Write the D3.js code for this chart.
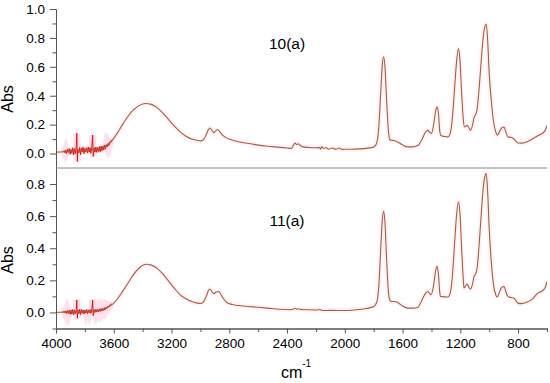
<!DOCTYPE html>
<html><head><meta charset="utf-8">
<script src="https://cdn.jsdelivr.net/npm/d3@7"></script>
<style>
body{margin:0;background:#fff}
text{font-family:Arial,"Liberation Sans",sans-serif;fill:#000}
</style>
</head><body>
<svg id="c" width="550" height="383"></svg>
<script>
// ---------- DATA ----------
const panelLabels = ["10(a)", "11(a)"];
const xMajorTicks = [4000, 3600, 3200, 2800, 2400, 2000, 1600, 1200, 800];
const xMinorTicks = [3800, 3400, 3000, 2600, 2200, 1800, 1400, 1000, 600];
const yMajorTop = [0.0, 0.2, 0.4, 0.6, 0.8, 1.0];
const yMinorTop = [0.1, 0.3, 0.5, 0.7, 0.9];
const yMajorBot = [0.0, 0.2, 0.4, 0.6, 0.8];
const yMinorBot = [-0.1, 0.1, 0.3, 0.5, 0.7];

// spectrum 10(a): wavenumber / absorbance
const wn10 = [4000,3950,3900,3850,3800,3750,3700,3660,3630,3600,3570,3540,3500,3460,3420,3380,3340,3300,3260,3220,3180,3140,3100,3060,3020,3000,2980,2960,2945,2935,2920,2908,2890,2880,2865,2845,2826,2800,2750,2700,2653,2600,2500,2400,2370,2355,2345,2335,2325,2310,2295,2250,2200,2175,2168,2160,2150,2130,2110,2090,2060,2040,2020,2000,1950,1900,1850,1800,1780,1765,1750,1740,1731,1722,1712,1700,1690,1680,1660,1634,1600,1564,1530,1495,1470,1440,1426,1410,1400,1385,1370,1361,1352,1342,1335,1310,1287,1270,1255,1240,1225,1213,1203,1190,1180,1171,1160,1153,1140,1130,1115,1105,1097,1085,1070,1055,1040,1030,1021,1012,1000,986,970,955,944,930,915,898,885,871,850,837,820,801,770,740,710,685,660,640,620,610,600];
const abs10 = [0.010,0.012,0.016,0.020,0.022,0.025,0.030,0.045,0.070,0.105,0.150,0.200,0.260,0.305,0.335,0.346,0.340,0.318,0.280,0.235,0.190,0.150,0.120,0.100,0.090,0.088,0.095,0.130,0.165,0.177,0.160,0.145,0.160,0.166,0.150,0.125,0.112,0.100,0.085,0.075,0.068,0.058,0.048,0.038,0.036,0.060,0.073,0.062,0.068,0.058,0.048,0.042,0.040,0.042,0.030,0.048,0.036,0.040,0.030,0.038,0.030,0.038,0.028,0.030,0.030,0.032,0.036,0.045,0.070,0.180,0.450,0.620,0.670,0.600,0.400,0.180,0.100,0.092,0.090,0.080,0.060,0.046,0.046,0.055,0.090,0.150,0.160,0.145,0.140,0.200,0.300,0.323,0.280,0.150,0.125,0.118,0.115,0.140,0.250,0.450,0.650,0.727,0.650,0.400,0.240,0.184,0.190,0.196,0.175,0.161,0.200,0.250,0.265,0.300,0.450,0.650,0.820,0.880,0.896,0.800,0.550,0.369,0.220,0.150,0.127,0.150,0.175,0.184,0.150,0.115,0.112,0.108,0.090,0.073,0.072,0.080,0.095,0.111,0.125,0.135,0.150,0.165,0.195];

// noisy segment of 10(a)
const noiseWn10 = [3950,3944,3938,3932,3926,3920,3914,3908,3902,3896,3890,3884,3878,3872,3866,3860,3856,3852,3848,3842,3836,3830,3824,3818,3812,3806,3800,3794,3788,3782,3776,3770,3764,3758,3752,3746,3742,3736,3730,3724,3718,3712,3706,3700,3694,3688,3682,3676,3670,3664,3658,3652,3646,3640,3634,3628,3622,3616];
const noiseAbs10 = [0.012,0.020,0.005,0.025,0.000,0.030,0.008,0.035,-0.005,0.028,0.002,0.040,-0.010,0.035,0.000,0.045,0.140,-0.055,0.030,0.005,0.042,-0.008,0.038,0.010,0.045,0.000,0.035,0.012,0.040,0.005,0.045,0.010,0.040,0.002,0.048,0.128,-0.020,0.040,0.010,0.045,0.008,0.042,0.015,0.048,0.012,0.050,0.020,0.052,0.025,0.058,0.030,0.062,0.045,0.070,0.055,0.080,0.075,0.095];

// spectrum 11(a)
const wn11 = [4000,3950,3900,3850,3800,3750,3700,3660,3630,3600,3570,3540,3500,3460,3420,3375,3340,3300,3260,3220,3180,3140,3100,3060,3020,3000,2980,2960,2945,2935,2920,2908,2890,2873,2860,2840,2815,2780,2700,2600,2537,2450,2375,2355,2345,2335,2320,2300,2200,2170,2160,2100,2000,1950,1900,1850,1800,1780,1765,1750,1740,1731,1722,1712,1700,1690,1681,1660,1634,1600,1564,1530,1495,1470,1440,1426,1410,1403,1385,1370,1361,1352,1342,1338,1310,1287,1270,1255,1240,1225,1213,1203,1190,1180,1175,1165,1153,1140,1130,1115,1105,1097,1085,1070,1055,1040,1030,1021,1012,1000,986,970,955,944,930,915,898,885,871,850,830,801,780,740,700,663,640,620,610,600];
const abs11 = [0.000,0.002,0.004,0.005,0.006,0.008,0.012,0.022,0.038,0.058,0.090,0.130,0.185,0.240,0.280,0.300,0.295,0.275,0.240,0.195,0.150,0.110,0.085,0.068,0.058,0.056,0.065,0.100,0.135,0.146,0.130,0.117,0.128,0.131,0.115,0.085,0.060,0.050,0.040,0.032,0.027,0.020,0.017,0.022,0.026,0.021,0.023,0.018,0.015,0.018,0.012,0.013,0.012,0.014,0.018,0.025,0.037,0.060,0.160,0.420,0.580,0.630,0.560,0.360,0.150,0.080,0.069,0.068,0.062,0.040,0.027,0.027,0.031,0.070,0.120,0.131,0.115,0.110,0.170,0.265,0.287,0.240,0.120,0.100,0.097,0.096,0.120,0.230,0.430,0.620,0.690,0.620,0.380,0.210,0.152,0.165,0.177,0.155,0.146,0.180,0.225,0.235,0.270,0.420,0.620,0.790,0.850,0.867,0.770,0.520,0.318,0.170,0.110,0.096,0.125,0.155,0.162,0.130,0.100,0.093,0.090,0.058,0.055,0.063,0.085,0.121,0.130,0.145,0.160,0.193];

const noiseWn11 = noiseWn10;
const noiseAbs11 = [0.002,0.008,-0.004,0.010,-0.008,0.012,-0.006,0.015,-0.012,0.014,-0.010,0.018,-0.015,0.016,-0.008,0.020,0.078,-0.036,0.015,-0.008,0.020,-0.014,0.018,-0.005,0.016,-0.010,0.015,-0.004,0.018,-0.008,0.016,-0.003,0.018,-0.006,0.020,0.078,-0.020,0.018,0.000,0.020,0.002,0.018,0.004,0.022,0.006,0.024,0.010,0.026,0.014,0.030,0.018,0.034,0.026,0.040,0.034,0.046,0.044,0.055];

// ---------- DRAW ----------
const svg = d3.select("#c");
const left = 56, right = 547;
const x = d3.scaleLinear().domain([4000, 600]).range([left, right]);

const panels = [
  {label: panelLabels[0], dom: [-0.1, 1.0], rng: [168, 9], major: yMajorTop, minor: yMinorTop,
   wn: wn10, ab: abs10, nwn: noiseWn10, nab: noiseAbs10, labY: 49, absY: 99},
  {label: panelLabels[1], dom: [-0.1, 0.9], rng: [328.5, 168], major: yMajorBot, minor: yMinorBot,
   wn: wn11, ab: abs11, nwn: noiseWn11, nab: noiseAbs11, labY: 226, absY: 260}
];

const axisColor = "#555";
panels.forEach((p, i) => {
  const y = d3.scaleLinear().domain(p.dom).range(p.rng);
  const id = "clip" + i;
  svg.append("clipPath").attr("id", id).append("rect")
    .attr("x", left).attr("y", p.rng[1]).attr("width", right - left).attr("height", p.rng[0] - p.rng[1]);
  const g = svg.append("g").attr("clip-path", `url(#${id})`);

  const pts = p.wn.map((w, k) => [w, p.ab[k]]);
  const npts = p.nwn.map((w, k) => [w, p.nab[k]]);
  const lineS = d3.line().x(d => x(d[0])).y(d => y(d[1])).curve(d3.curveMonotoneX);
  const lineL = d3.line().x(d => x(d[0])).y(d => y(d[1]));

  // faint halo
  g.append("path").attr("d", lineL(npts)).attr("fill", "none")
    .attr("stroke", "#ff9cc6").attr("stroke-opacity", 0.3).attr("stroke-width", 7);
  g.append("path").attr("d", lineS(pts)).attr("fill", "none")
    .attr("stroke", "#ffd0e0").attr("stroke-opacity", 0.25).attr("stroke-width", 5);
  // noise (red)
  g.append("path").attr("d", lineL(npts)).attr("fill", "none")
    .attr("stroke", "#d81c14").attr("stroke-width", 1);
  // main line
  g.append("path").attr("d", lineS(pts)).attr("fill", "none")
    .attr("stroke", "#a65d3c").attr("stroke-width", 1.1);

  // y axis
  const ya = svg.append("g").attr("transform", `translate(${left},0)`)
    .call(d3.axisLeft(y).tickValues(p.major).tickFormat(d3.format(".1f")).tickSize(6).tickSizeOuter(0).tickPadding(5));
  const ym = svg.append("g").attr("transform", `translate(${left},0)`)
    .call(d3.axisLeft(y).tickValues(p.minor).tickFormat("").tickSize(3.5).tickSizeOuter(0));
  [ya, ym].forEach(a => {
    a.selectAll("path,line").attr("stroke", axisColor);
    a.selectAll("text").style("font-size", "13.5px").attr("fill", "#000");
  });

  svg.append("text").attr("transform", `translate(13,${p.absY}) rotate(-90)`)
    .attr("text-anchor", "middle").style("font-size", "16px").text("Abs");
  svg.append("text").attr("x", 287).attr("y", p.labY).attr("text-anchor", "middle")
    .style("font-size", "15.5px").text(p.label);
});

// divider between panels
svg.append("line").attr("x1", left).attr("x2", right).attr("y1", 168).attr("y2", 168)
  .attr("stroke", "#888").attr("stroke-width", 1);

// x axis
const xa = svg.append("g").attr("transform", "translate(0,328.5)")
  .call(d3.axisBottom(x).tickValues(xMajorTicks).tickFormat(d3.format("d")).tickSize(5).tickSizeOuter(0).tickPadding(5));
const xm = svg.append("g").attr("transform", "translate(0,328.5)")
  .call(d3.axisBottom(x).tickValues(xMinorTicks).tickFormat("").tickSize(3.5).tickSizeOuter(0));
[xa, xm].forEach(a => {
  a.selectAll("path,line").attr("stroke", axisColor);
  a.selectAll("text").style("font-size", "13.5px").attr("fill", "#000");
});

const xt = svg.append("text").attr("x", 296).attr("y", 378).attr("text-anchor", "middle").style("font-size", "16px");
xt.append("tspan").text("cm");
xt.append("tspan").attr("dy", -11).style("font-size", "10px").text("-1");
</script>
</body></html>
